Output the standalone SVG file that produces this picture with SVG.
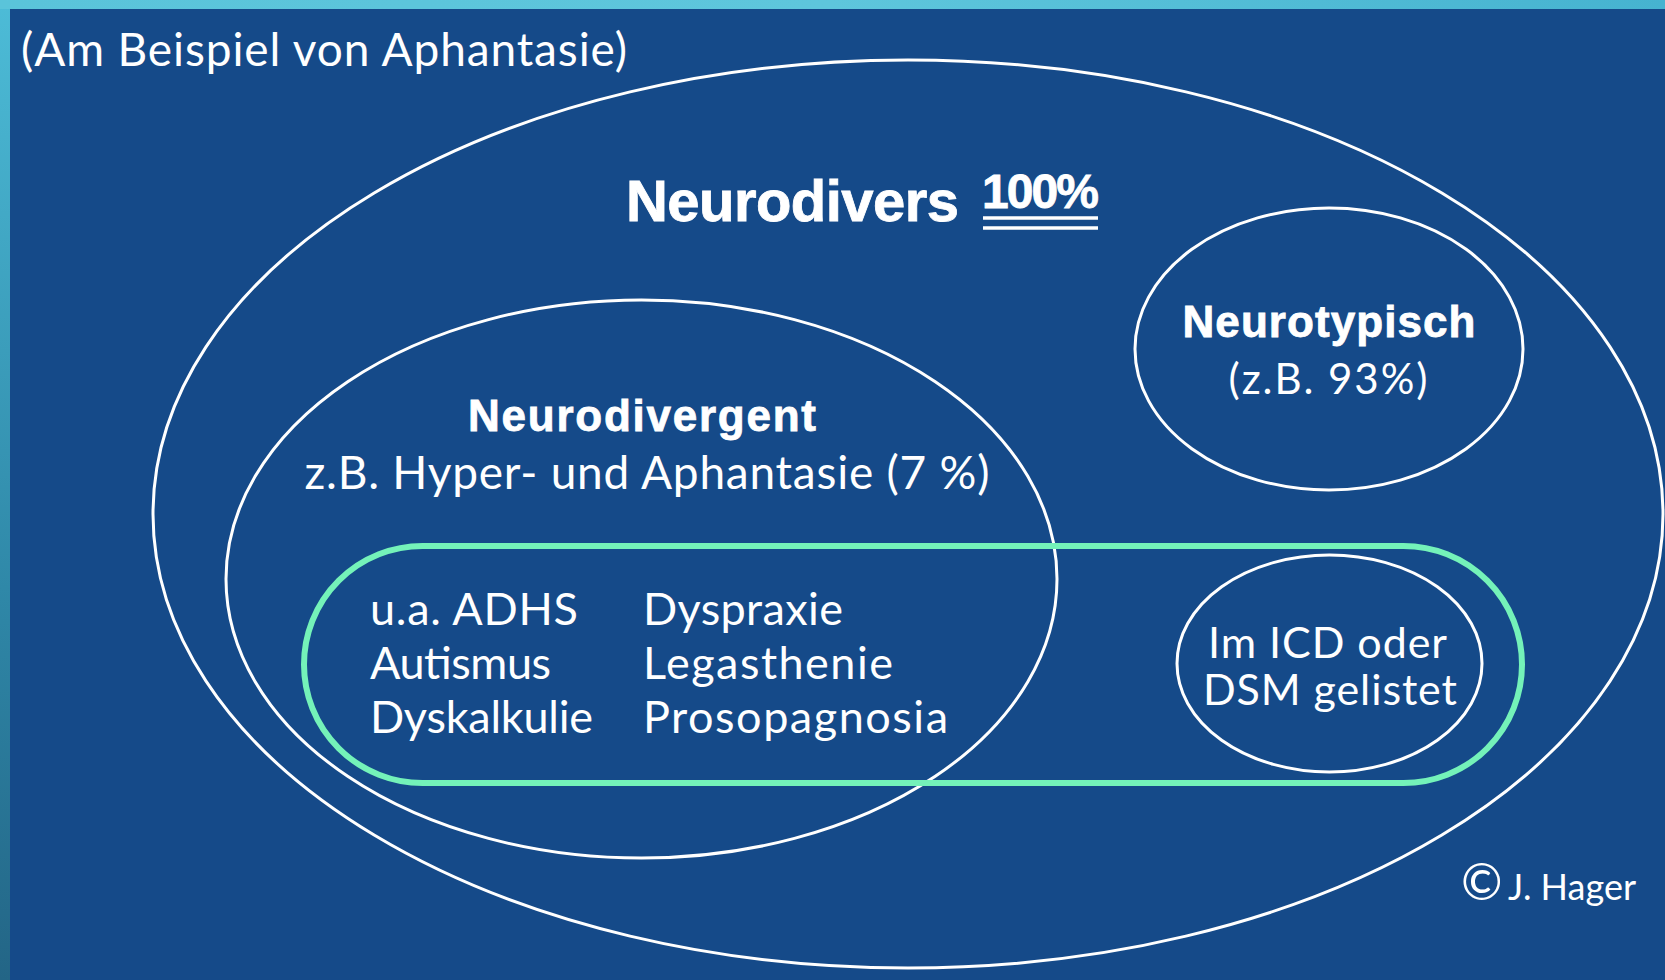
<svg xmlns="http://www.w3.org/2000/svg" width="1665" height="980" viewBox="0 0 1665 980">
  <defs>
    <linearGradient id="gLeft" x1="0" y1="0" x2="0" y2="1">
      <stop offset="0" stop-color="#4dbcd7"/>
      <stop offset="0.6" stop-color="#2f88a8"/>
      <stop offset="1" stop-color="#236586"/>
    </linearGradient>
    <linearGradient id="gTop" x1="0" y1="0" x2="1" y2="0">
      <stop offset="0" stop-color="#5ac4da"/>
      <stop offset="0.5" stop-color="#5ec6dc"/>
      <stop offset="1" stop-color="#46b3d0"/>
    </linearGradient>
    <style>
      .ring { fill: none; stroke: #ffffff; stroke-width: 3; }
      .green { fill: none; stroke: #74f2b9; stroke-width: 6; }
      .reg { font-family: Lato, "Liberation Sans", sans-serif; font-weight: 400; fill: #ffffff; }
      .bold { font-family: "Liberation Sans", Arial, sans-serif; font-weight: 700; fill: #ffffff; stroke: #ffffff; stroke-width: 0.8; }
      .mid { text-anchor: middle; }
      .ul { stroke: #ffffff; stroke-width: 3.5; }
    </style>
  </defs>

  <rect x="0" y="0" width="1665" height="980" fill="#154a89"/>
  <rect x="0" y="0" width="10" height="980" fill="url(#gLeft)"/>
  <rect x="0" y="0" width="1665" height="9" fill="url(#gTop)"/>

  <text class="reg" x="21" y="66" font-size="46" textLength="606">(Am Beispiel von Aphantasie)</text>

  <g id="neurodivers">
    <ellipse class="ring" cx="908" cy="514" rx="755" ry="454"/>
    <text class="bold" x="626" y="221" font-size="58" textLength="333">Neurodivers</text>
    <text class="bold" x="982" y="208" font-size="48" textLength="117">100%</text>
    <line class="ul" x1="983" y1="218" x2="1098" y2="218"/>
    <line class="ul" x1="983" y1="228" x2="1098" y2="228"/>
  </g>

  <g id="neurotypisch">
    <ellipse class="ring" cx="1329" cy="349" rx="194" ry="141"/>
    <text class="bold mid" x="1329" y="337" font-size="44" textLength="293">Neurotypisch</text>
    <text class="reg mid" x="1328" y="394" font-size="42" textLength="199">(z.B. 93%)</text>
  </g>

  <g id="neurodivergent">
    <ellipse class="ring" cx="641.5" cy="579" rx="415.5" ry="279"/>
    <text class="bold mid" x="642" y="431" font-size="44" textLength="348">Neurodivergent</text>
    <text class="reg mid" x="647" y="489" font-size="46" textLength="685">z.B. Hyper- und Aphantasie (7 %)</text>
  </g>

  <g id="gelistet">
    <rect class="green" x="304" y="546" width="1218" height="237" rx="118.5" ry="118.5"/>
    <text class="reg" x="370" y="625" font-size="45" textLength="208">u.a. ADHS</text>
    <text class="reg" x="370" y="679" font-size="45" textLength="181">Autismus</text>
    <text class="reg" x="370" y="733" font-size="45" textLength="223">Dyskalkulie</text>
    <text class="reg" x="643" y="625" font-size="45" textLength="200">Dyspraxie</text>
    <text class="reg" x="643" y="679" font-size="45" textLength="250">Legasthenie</text>
    <text class="reg" x="643" y="733" font-size="45" textLength="305">Prosopagnosia</text>
  </g>

  <g id="icd">
    <ellipse class="ring" cx="1329.5" cy="663.5" rx="152.5" ry="108.5"/>
    <text class="reg mid" x="1327.5" y="658" font-size="43" textLength="239">Im ICD oder</text>
    <text class="reg mid" x="1330" y="705" font-size="43" textLength="254">DSM gelistet</text>
  </g>

  <text class="reg" x="1461" y="900" font-size="36"><tspan font-size="50">©</tspan><tspan x="1508">J. Hager</tspan></text>
</svg>
